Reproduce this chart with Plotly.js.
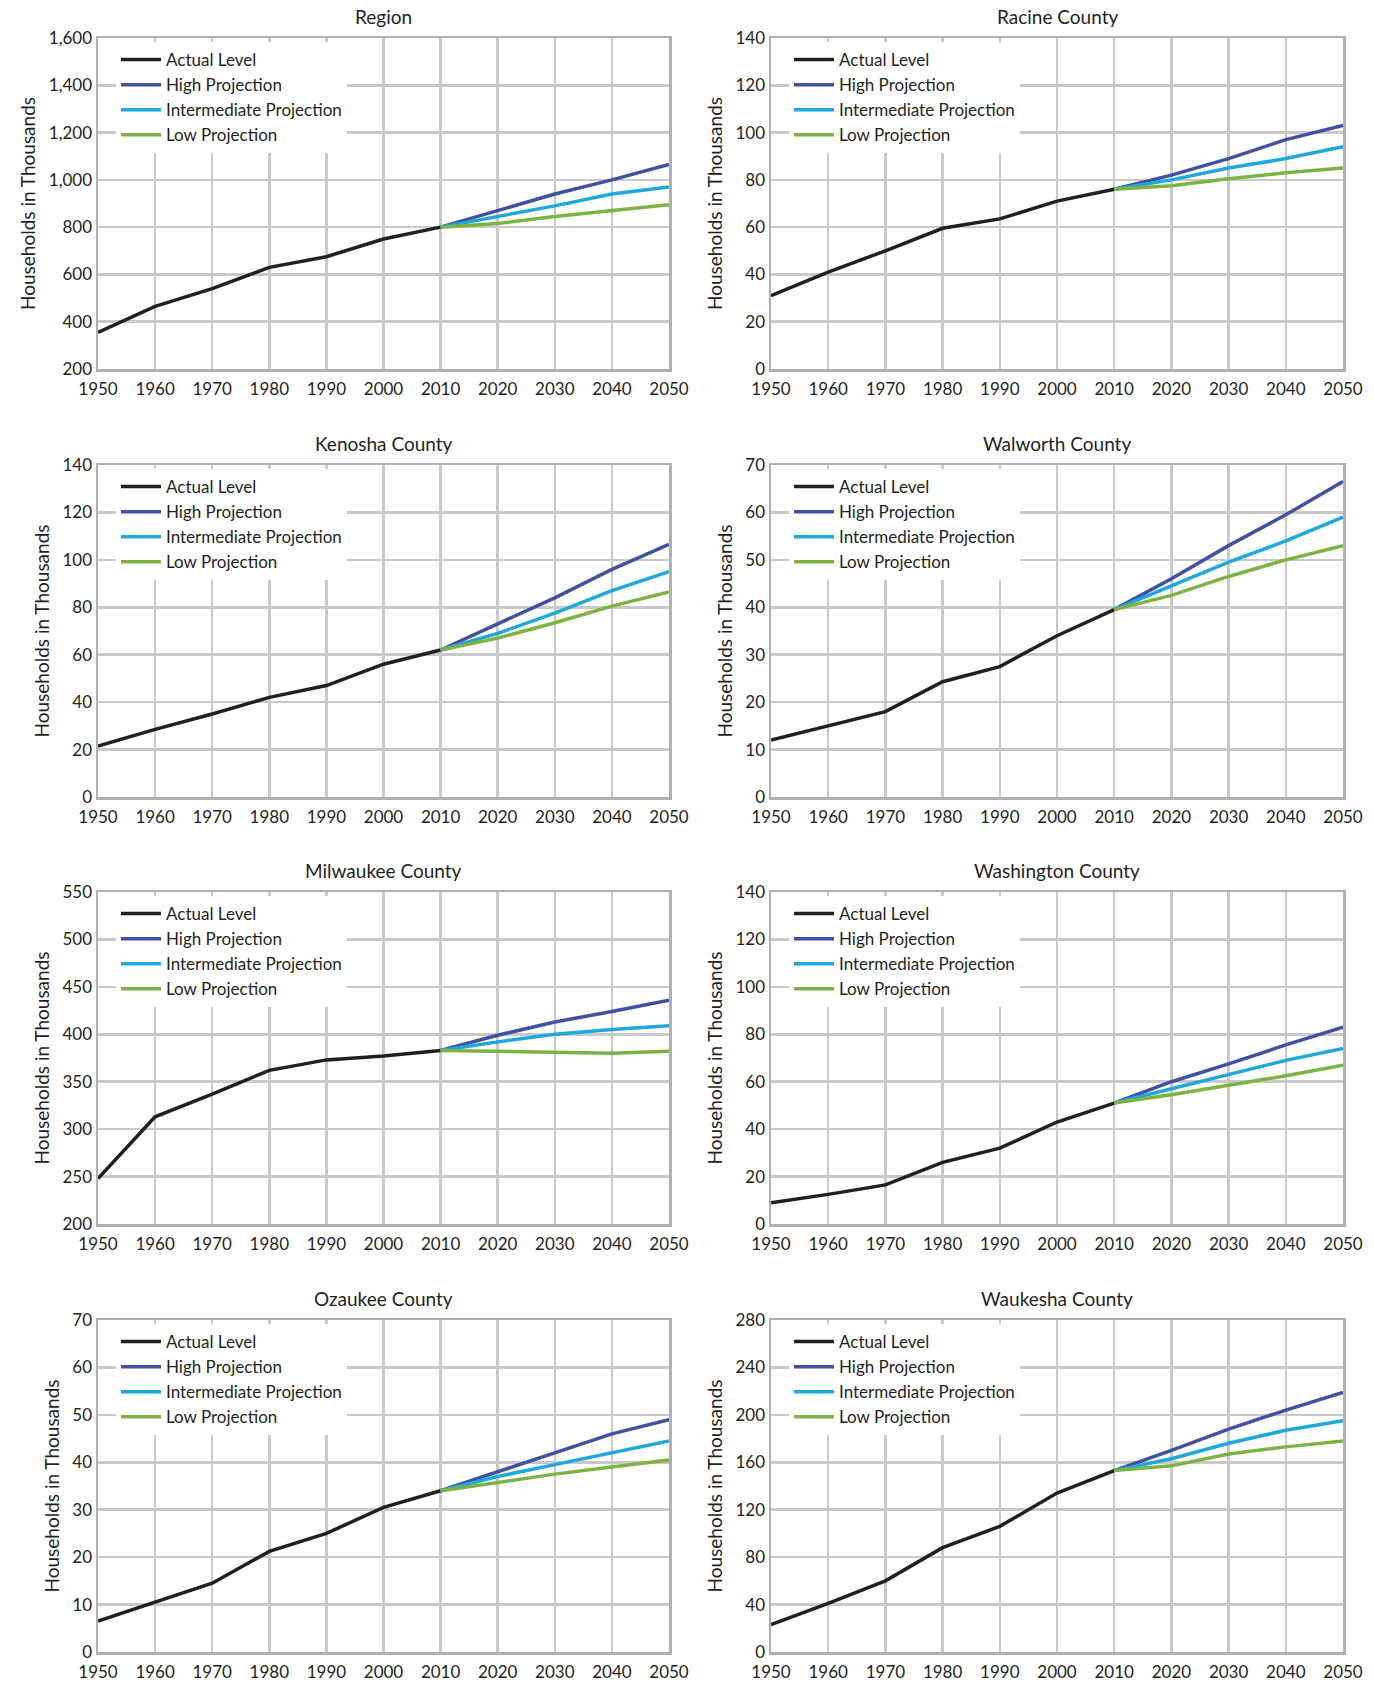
<!DOCTYPE html>
<html><head><meta charset="utf-8">
<script src="https://cdn.plot.ly/plotly-3.0.1.min.js"></script>
<style>body{margin:0;background:#fff}#c{width:1374px;height:1686px}</style>
</head><body><div id="c"></div>
<script>
const actualYears = [1950,1960,1970,1980,1990,2000,2010];
const projYears = [2010,2020,2030,2040,2050];

const regionActual = [355,465,540,630,675,750,800];
const regionHigh = [800,870,940,1000,1065];
const regionInt = [800,845,890,940,970];
const regionLow = [800,815,845,870,895];

const racineActual = [31,41,50,59.5,63.5,71,76];
const racineHigh = [76,82,89,97,103];
const racineInt = [76,80,85,89,94];
const racineLow = [76,77.5,80.5,83,85];

const kenoshaActual = [21.5,28.5,35,42,47,56,62];
const kenoshaHigh = [62,73,84,96,106.5];
const kenoshaInt = [62,69,77.5,87,95];
const kenoshaLow = [62,67,73.5,80.5,86.5];

const walworthActual = [12,15,18,24.3,27.5,34,39.5];
const walworthHigh = [39.5,46,53,59.5,66.5];
const walworthInt = [39.5,44.5,49.5,54,59];
const walworthLow = [39.5,42.5,46.5,50,53];

const milwaukeeActual = [248,313,337,362,373,377,383];
const milwaukeeHigh = [383,399,413,424,436];
const milwaukeeInt = [383,392,400,405,409];
const milwaukeeLow = [383,382,381,380,382];

const washingtonActual = [9,12.5,16.5,26,32,43,51];
const washingtonHigh = [51,60,67.5,75.5,83];
const washingtonInt = [51,57,63,69,74];
const washingtonLow = [51,54.5,58.5,62.5,67];

const ozaukeeActual = [6.5,10.5,14.5,21.2,25,30.5,34];
const ozaukeeHigh = [34,38,42,46,49];
const ozaukeeInt = [34,37,39.5,42,44.5];
const ozaukeeLow = [34,35.8,37.5,39,40.5];

const waukeshaActual = [23,41,60,88,106,134,153];
const waukeshaHigh = [153,170,188,204,219];
const waukeshaInt = [153,163,176,187,195];
const waukeshaLow = [153,157,167,173,178];

const seriesNames = ['Actual Level','High Projection','Intermediate Projection','Low Projection'];
const colors = ['#231f20','#3f51a3','#1fa8db','#7cb342'];

const panels = [
 {title:'Region', data:[regionActual,regionHigh,regionInt,regionLow], range:[200,1600], dtick:200, fmt:',d'},
 {title:'Racine County', data:[racineActual,racineHigh,racineInt,racineLow], range:[0,140], dtick:20},
 {title:'Kenosha County', data:[kenoshaActual,kenoshaHigh,kenoshaInt,kenoshaLow], range:[0,140], dtick:20},
 {title:'Walworth County', data:[walworthActual,walworthHigh,walworthInt,walworthLow], range:[0,70], dtick:10},
 {title:'Milwaukee County', data:[milwaukeeActual,milwaukeeHigh,milwaukeeInt,milwaukeeLow], range:[200,550], dtick:50},
 {title:'Washington County', data:[washingtonActual,washingtonHigh,washingtonInt,washingtonLow], range:[0,140], dtick:20},
 {title:'Ozaukee County', data:[ozaukeeActual,ozaukeeHigh,ozaukeeInt,ozaukeeLow], range:[0,70], dtick:10},
 {title:'Waukesha County', data:[waukeshaActual,waukeshaHigh,waukeshaInt,waukeshaLow], range:[0,280], dtick:40}
];
const H = 1686, W = 1374;
const cols = [[98,669],[771,1343]];
const rows = [[38,369],[465,797],[892,1224],[1320,1652]];
const font = 'Lato, "Open Sans", sans-serif';
const traces = [];
const layout = {width:W,height:H,margin:{l:0,r:0,t:0,b:0},paper_bgcolor:'#fff',plot_bgcolor:'#fff',
  font:{family:font,color:'#231f20',size:17},annotations:[]};
panels.forEach((p,i)=>{
  const r = rows[Math.floor(i/2)], c = cols[i%2];
  const n = i+1, xa = 'x'+(n>1?n:''), ya='y'+(n>1?n:''), lg='legend'+(n>1?n:'');
  const xd=[c[0]/W,c[1]/W], yd=[1-r[1]/H,1-r[0]/H];
  p.data.forEach((d,k)=>{
    traces.push({x:k===0?actualYears:projYears, y:d, mode:'lines', name:seriesNames[k],
      line:{color:colors[k],width:3.5}, xaxis:xa, yaxis:ya, legend:lg, showlegend:true, hoverinfo:'skip'});
  });
  const ax = {showgrid:true,gridcolor:'#c9c9cb',gridwidth:2.5,showline:true,linecolor:'#b0b0b2',linewidth:2.5,mirror:true,
    zeroline:false,ticks:'',tickfont:{size:17,family:font,color:'#231f20'}};
  layout['xaxis'+(n>1?n:'')] = Object.assign({},ax,{domain:xd,range:[1950,2050],dtick:10,tick0:1950,anchor:ya,ticklabelstandoff:3});
  layout['yaxis'+(n>1?n:'')] = Object.assign({},ax,{domain:yd,range:p.range,dtick:p.dtick,anchor:xa,tickformat:p.fmt||'',
    title:{text:'Households in Thousands',font:{size:19,family:font},standoff:8}});
  layout[lg] = {x:(c[0]+18)/W,y:1-(r[0]+4)/H,xanchor:'left',yanchor:'top',bgcolor:'#fff',
    font:{size:17,family:font,color:'#231f20'},tracegroupgap:0,itemwidth:40};
  layout.annotations.push({text:p.title,xref:'paper',yref:'paper',x:(xd[0]+xd[1])/2,y:1-(r[0]-8)/H,
    xanchor:'center',yanchor:'bottom',showarrow:false,font:{size:19,family:font,color:'#231f20'}});
});
Plotly.newPlot('c',traces,layout,{staticPlot:true});
</script></body></html>
